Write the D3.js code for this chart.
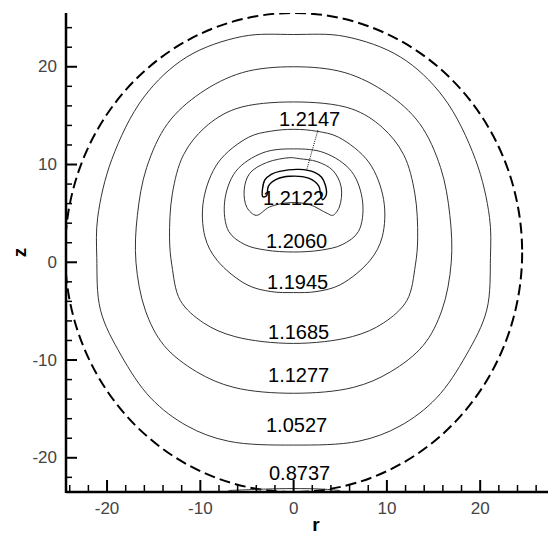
<!DOCTYPE html>
<html>
<head>
<meta charset="utf-8">
<script src="https://cdn.jsdelivr.net/npm/d3@7"></script>
<style>
  html, body { margin: 0; padding: 0; background: #fff; }
  svg { display: block; }
</style>
</head>
<body>
<svg id="chart" width="548" height="534"></svg>
<script>
// ---- axis extents and ticks (data units) ----
const rDomain = [-24.4, 29.2];
const zDomain = [-23.5, 25.5];
const rMajorTicks = [-20, -10, 0, 10, 20];
const rMinorTicks = [-24, -22, -18, -16, -14, -12, -8, -6, -4, -2, 2, 4, 6, 8, 12, 14, 16, 18, 22, 24, 26, 28];
const zMajorTicks = [-20, -10, 0, 10, 20];
const zMinorTicks = [-22, -18, -16, -14, -12, -8, -6, -4, -2, 2, 4, 6, 8, 12, 14, 16, 18, 22, 24];

// ---- domain boundary: centre [r, z] and radius ----
const boundaryCenter = [0, 1.0];
const boundaryRadius = 24.5;

// ---- contour levels ----
const levels = ["0.8737", "1.0527", "1.1277", "1.1685", "1.1945", "1.2060", "1.2122", "1.2147"];

// ---- contour lines, [r, z] ----
const c08737 = [[-7, -23.35], [-3, -23.2], [0, -23.15], [3, -23.2], [5, -23.35]];
const c10527 = [[0, 23.3], [5.5, 23.1], [11.45, 21.0], [16.05, 16.9], [19.5, 10.5], [21.0, 4.6], [21.1, 0.5],
  [20.7, -4.9], [18.5, -9.5], [15.3, -13.9], [11.4, -16.75], [7.0, -18.3], [0, -18.7],
  [-7.0, -18.3], [-11.4, -16.75], [-15.3, -13.9], [-18.5, -9.5], [-20.7, -4.9], [-21.1, 0.5],
  [-21.0, 4.6], [-19.5, 10.5], [-16.05, 16.9], [-11.45, 21.0], [-5.5, 23.1]];
const c11277 = [[0, 20.0], [5.5, 19.4], [10.0, 17.3], [13.5, 14.2], [15.75, 9.7], [16.75, 4.8], [16.9, 0],
  [15.9, -4.9], [13.9, -8.5], [10.4, -11.2], [6.4, -12.8], [0, -13.4],
  [-6.4, -12.8], [-10.4, -11.2], [-13.9, -8.5], [-15.9, -4.9], [-16.9, 0], [-16.75, 4.8],
  [-15.75, 9.7], [-13.5, 14.2], [-10.0, 17.3], [-5.5, 19.4]];
const c11685 = [[0, 16.4], [6.2, 15.7], [9.5, 13.8], [11.8, 11.0], [13.0, 7.0], [13.3, 2.5], [13.05, -0.3],
  [12.15, -3.9], [9.65, -6.2], [6.3, -7.6], [0, -8.3],
  [-6.3, -7.6], [-9.65, -6.2], [-12.15, -3.9], [-13.05, -0.3], [-13.3, 2.5], [-13.0, 7.0],
  [-11.8, 11.0], [-9.5, 13.8], [-6.2, 15.7]];
const c11945 = [[0, 13.6], [2.5, 13.4], [4.8, 12.8], [8.05, 10.25], [9.65, 6.4], [9.5, 2.6], [8.2, 0.2],
  [5.0, -2.3], [2.4, -3.0], [0, -3.1],
  [-2.4, -3.0], [-5.0, -2.3], [-8.2, 0.2], [-9.5, 2.6], [-9.65, 6.4], [-8.05, 10.25],
  [-4.8, 12.8], [-2.5, 13.4]];
const c12060 = [[0, 11.6], [3.3, 11.2], [6.2, 9.3], [7.4, 6.15], [6.95, 3.15], [5.2, 1.8], [3.0, 1.25],
  [0, 1.05], [-3.0, 1.25], [-5.2, 1.8], [-6.95, 3.15], [-7.4, 6.15], [-6.2, 9.3], [-3.3, 11.2]];
const c12122 = [[-4.0, 4.8], [-5.0, 5.6], [-5.3, 7.4], [-4.7, 9.1], [-2.9, 10.2], [-0.4, 10.7], [0.6, 10.6],
  [2.5, 10.3], [4.2, 9.4], [5.1, 7.7], [4.9, 5.65], [4.2, 4.8], [3.6, 5.0], [1.7, 5.9], [-0.4, 6.1],
  [-2.6, 5.65]];
const c12147 = [[-3.3, 6.7], [-3.1, 8.4], [-2.4, 9.0], [-1.5, 9.3], [0.6, 9.5], [2.25, 9.2], [3.0, 8.7],
  [3.4, 7.9], [3.5, 6.9], [3.1, 6.4], [2.9, 6.9], [2.7, 7.8], [1.6, 8.6], [-0.4, 8.8], [-1.8, 8.5],
  [-2.7, 7.8], [-2.9, 6.8]];

// label anchors [r, z] for each level, in the same order as levels
const labelSpots = [[0.64, -21.54], [0.32, -16.63], [0.54, -11.52], [0.54, -7.13], [0.43, -2.01],
  [0.32, 2.13], [0, 6.57], [1.71, 14.70]];
// leader from the 1.2147 label down to its contour
const leader = [[2.6, 13.5], [1.4, 9.45]];

// ---- layout ----
const svg = d3.select("#chart");
const plot = { left: 66, right: 566, top: 13, bottom: 492 };
const x = d3.scaleLinear().domain(rDomain).range([plot.left, plot.right]);
const y = d3.scaleLinear().domain(zDomain).range([plot.bottom, plot.top]);

svg.append("defs").append("clipPath").attr("id", "plotClip")
  .append("rect")
  .attr("x", plot.left).attr("y", plot.top)
  .attr("width", plot.right - plot.left).attr("height", plot.bottom - plot.top);

const data = svg.append("g").attr("clip-path", "url(#plotClip)");

// dashed outer boundary
data.append("ellipse")
  .attr("cx", x(boundaryCenter[0]))
  .attr("cy", y(boundaryCenter[1]))
  .attr("rx", x(boundaryCenter[0] + boundaryRadius) - x(boundaryCenter[0]))
  .attr("ry", y(boundaryCenter[1] - boundaryRadius) - y(boundaryCenter[1]))
  .attr("fill", "none")
  .attr("stroke", "#000")
  .attr("stroke-width", 2)
  .attr("stroke-dasharray", "11,5");

const closedLine = d3.line().x(d => x(d[0])).y(d => y(d[1])).curve(d3.curveCatmullRomClosed.alpha(0.5));
const openLine = d3.line().x(d => x(d[0])).y(d => y(d[1])).curve(d3.curveCatmullRom.alpha(0.5));

const closedContours = [c10527, c11277, c11685, c11945, c12060, c12122];
data.selectAll("path.contour")
  .data(closedContours)
  .join("path")
  .attr("class", "contour")
  .attr("d", closedLine)
  .attr("fill", "none")
  .attr("stroke", "#333")
  .attr("stroke-width", 1);

data.append("path")
  .attr("d", openLine(c08737))
  .attr("fill", "none")
  .attr("stroke", "#333")
  .attr("stroke-width", 1);

data.append("path")
  .attr("d", closedLine(c12147))
  .attr("fill", "none")
  .attr("stroke", "#000")
  .attr("stroke-width", 1.4);

data.append("path")
  .attr("d", openLine(leader))
  .attr("fill", "none")
  .attr("stroke", "#000")
  .attr("stroke-width", 1)
  .attr("stroke-dasharray", "1,1.2");

// contour labels
svg.append("g")
  .selectAll("text")
  .data(levels)
  .join("text")
  .attr("x", (d, i) => x(labelSpots[i][0]))
  .attr("y", (d, i) => y(labelSpots[i][1]))
  .attr("text-anchor", "middle")
  .attr("dominant-baseline", "central")
  .attr("font-family", "Liberation Sans, Arial, sans-serif")
  .attr("font-size", 20)
  .attr("fill", "#000")
  .text(d => d);

// ---- axes ----
const axisColor = "#000";
const tickFont = "Liberation Sans, Arial, sans-serif";
const ax = svg.append("g");

ax.append("line")
  .attr("x1", plot.left).attr("x2", plot.right)
  .attr("y1", plot.bottom).attr("y2", plot.bottom)
  .attr("stroke", axisColor).attr("stroke-width", 2.5);
ax.append("line")
  .attr("x1", plot.left).attr("x2", plot.left)
  .attr("y1", plot.top).attr("y2", plot.bottom + 1)
  .attr("stroke", axisColor).attr("stroke-width", 2.5);

// r-axis ticks point up into the plot
ax.selectAll("line.rmaj").data(rMajorTicks).join("line")
  .attr("x1", d => x(d)).attr("x2", d => x(d))
  .attr("y1", plot.bottom).attr("y2", plot.bottom - 12)
  .attr("stroke", axisColor).attr("stroke-width", 2);
ax.selectAll("line.rmin").data(rMinorTicks).join("line")
  .attr("x1", d => x(d)).attr("x2", d => x(d))
  .attr("y1", plot.bottom).attr("y2", plot.bottom - 7)
  .attr("stroke", axisColor).attr("stroke-width", 1.5);

// z-axis ticks point right into the plot
ax.selectAll("line.zmaj").data(zMajorTicks).join("line")
  .attr("y1", d => y(d)).attr("y2", d => y(d))
  .attr("x1", plot.left).attr("x2", plot.left + 11)
  .attr("stroke", axisColor).attr("stroke-width", 2);
ax.selectAll("line.zmin").data(zMinorTicks).join("line")
  .attr("y1", d => y(d)).attr("y2", d => y(d))
  .attr("x1", plot.left).attr("x2", plot.left + 6)
  .attr("stroke", axisColor).attr("stroke-width", 1.5);

ax.selectAll("text.rlab").data(rMajorTicks).join("text")
  .attr("x", d => x(d)).attr("y", plot.bottom + 16)
  .attr("text-anchor", "middle").attr("dominant-baseline", "central")
  .attr("font-family", tickFont).attr("font-size", 17).attr("fill", "#444")
  .text(d => d);

ax.selectAll("text.zlab").data(zMajorTicks).join("text")
  .attr("x", plot.left - 9).attr("y", d => y(d))
  .attr("text-anchor", "end").attr("dominant-baseline", "central")
  .attr("font-family", tickFont).attr("font-size", 17).attr("fill", "#444")
  .text(d => d);

// axis titles
svg.append("text")
  .attr("x", (plot.left + plot.right) / 2).attr("y", 524)
  .attr("text-anchor", "middle").attr("dominant-baseline", "central")
  .attr("font-family", tickFont).attr("font-weight", "bold").attr("font-size", 19)
  .text("r");
svg.append("text")
  .attr("transform", `translate(19,${(plot.top + plot.bottom) / 2}) rotate(-90)`)
  .attr("text-anchor", "middle").attr("dominant-baseline", "central")
  .attr("font-family", tickFont).attr("font-weight", "bold").attr("font-size", 19)
  .text("z");
</script>
</body>
</html>
